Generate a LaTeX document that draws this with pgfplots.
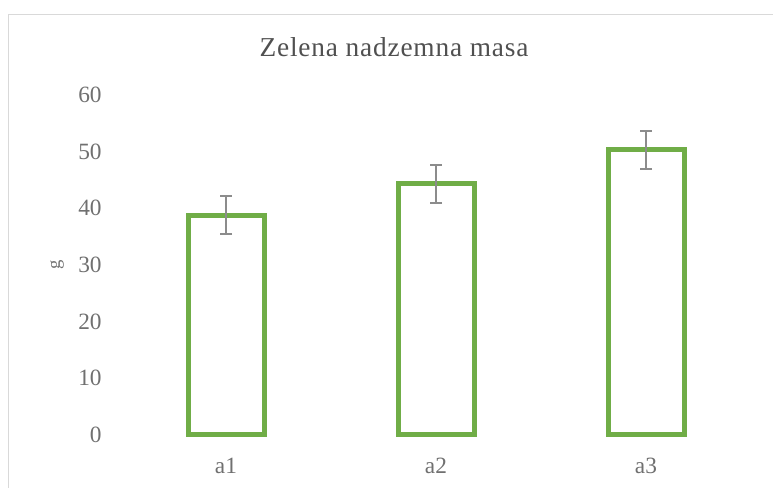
\documentclass[border=0pt]{standalone}
\usepackage{pgfplots}
\pgfplotsset{compat=1.18}
\usepackage{fontspec}
\setmainfont{Liberation Serif}
\newfontfamily\titlefont[LetterSpace=3]{Liberation Serif}
\definecolor{bargreen}{HTML}{70AD47}
\definecolor{errgray}{HTML}{8C8C8C}
\definecolor{ticklab}{HTML}{707070}
\definecolor{titlecol}{HTML}{505050}
\definecolor{framecol}{HTML}{D9D9D9}
\begin{document}
\begin{tikzpicture}[x=0.75pt,y=0.75pt]
\useasboundingbox (0,0) rectangle (773,488);
\draw[framecol, line width=0.75pt] (8,-20) -- (8,473) -- (800,473);
\node[titlecol, font=\titlefont\fontsize{20.5}{24}\selectfont] at (394,441) {Zelena nadzemna masa};
\begin{axis}[
  at={(90.75pt,39.75pt)}, anchor=south west,
  scale only axis,
  width=472.5pt, height=255pt,
  xmin=-0.5, xmax=2.5, ymin=0, ymax=60,
  ytick={0,10,...,60},
  xtick={0,1,2}, xticklabels={a1,a2,a3},
  axis line style={draw=none},
  major tick length=0pt,
  tick label style={font=\fontsize{17.5}{21}\selectfont, text=ticklab},
  /pgf/number format/assume math mode=true,
  yticklabel style={xshift=-11pt},
  xticklabel style={yshift=-14pt},
  ylabel={g},
  ylabel style={font=\fontsize{14}{16}\selectfont, text=ticklab, at={(axis description cs:-0.1016,0.5)}, anchor=center, rotate=0},
  clip=false,
]
\addplot[ybar, bar width=57pt, bar shift=0pt, draw=bargreen, fill=white, line width=3.75pt,
  error bars/.cd, y dir=both, y explicit,
  error bar style={errgray, line width=1.5pt},
  error mark options={errgray, line width=1.5pt, mark size=4.5pt, rotate=90}]
  coordinates {(0,38.8) +- (0,3.3) (1,44.3) +- (0,3.35) (2,50.3) +- (0,3.35)};
\end{axis}
\end{tikzpicture}
\end{document}
